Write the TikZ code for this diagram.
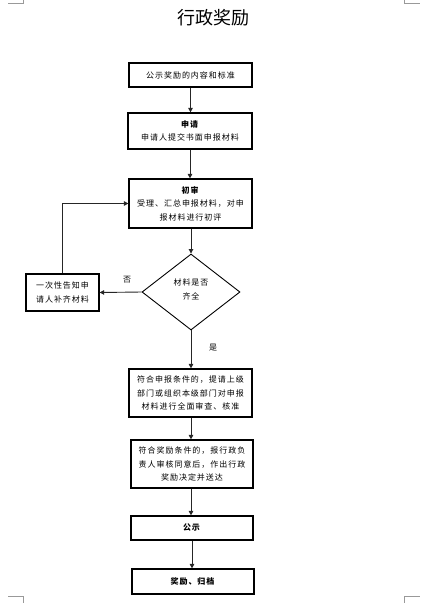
\documentclass[tikz,border=0pt]{standalone}
\usepackage{fontspec}
\usetikzlibrary{arrows.meta,shapes.geometric}
\newfontfamily\cjk{Noto Sans CJK SC}[LetterSpace=12]
\newfontfamily\cjktitle{Noto Sans CJK SC}
\begin{document}
\begin{tikzpicture}[x=1pt,y=-1pt,
  box/.style={draw=black,line width=1.2pt,inner sep=0pt,align=center,
    font=\cjk\fontsize{8}{13.6}\selectfont},
  dia/.style={draw=black,line width=0.9pt,diamond,inner sep=0pt,align=center,
    font=\cjk\fontsize{8}{14.5}\selectfont},
  arr/.style={draw=black!85,line width=0.9pt,-{Triangle[length=4.5pt,width=4.5pt]}},
  lbl/.style={font=\cjk\fontsize{8}{10}\selectfont,inner sep=0pt},
  cornermark/.style={draw=black!40,line width=0.8pt}]
\useasboundingbox (0,0) rectangle (426,603);
% corner marks
\draw[cornermark] (8,3.3) -- (23.3,3.3) -- (23.3,0);
\draw[cornermark] (404.3,0) -- (404.3,3.3) -- (420,3.3);
\draw[cornermark] (8,596.7) -- (23.3,596.7) -- (23.3,603);
\draw[cornermark] (404.3,603) -- (404.3,596.7) -- (420,596.7);
% title
\node[inner sep=0pt,font=\cjktitle\fontsize{18}{18}\selectfont] (title) at (213.5,17.5) {行政奖励};
% boxes
\node[box,minimum width=123pt,minimum height=24pt] (b1) at (190.5,75) {公示奖励的内容和标准};
\node[box,minimum width=124pt,minimum height=36pt] (b2) at (190,131) {\textbf{申请}\\申请人提交书面申报材料};
\node[box,minimum width=123pt,minimum height=49pt] (b3) at (190.5,203.5) {\textbf{初审}\\受理、汇总申报材料，对申\\报材料进行初评};
\node[dia,minimum width=98pt,minimum height=76pt,aspect=1.29] (d) at (191,292) {};
\node[lbl,align=center,font=\cjk\fontsize{8}{14.5}\selectfont] (dt) at (191,289.5) {材料是否\\齐全};
\node[box,minimum width=73pt,minimum height=37pt,align=left] (lb) at (62.5,292.5) {一次性告知申\\请人补齐材料};
\node[box,minimum width=123pt,minimum height=48pt] (b4) at (190.5,393) {符合申报条件的，提请上级\\部门或组织本级部门对申报\\材料进行全面审查、核准};
\node[box,minimum width=122pt,minimum height=48pt] (b5) at (192,464) {符合奖励条件的，报行政负\\责人审核同意后，作出行政\\奖励决定并送达};
\node[box,minimum width=122pt,minimum height=24pt] (b6) at (192,528) {\textbf{公示}};
\node[box,minimum width=122pt,minimum height=25pt] (b7) at (193,581.5) {\textbf{奖励、归档}};
% labels
\node[lbl] (no) at (127,280) {否};
\node[lbl] (yes) at (213,348) {是};
% arrows
\draw[arr] (b1.south) -- (b1.south |- b2.north);
\draw[arr] (b2.south) -- (b2.south |- b3.north);
\draw[arr] (b3.south -| d.north) -- (d.north);
\draw[arr] (d.south) -- (d.south |- b4.north);
\draw[arr] (d.west) -- (lb.east);
\draw[arr] (lb.north) -- (lb.north |- b3.west) -- (b3.west);
\draw[arr] (b4.south -| d.south) -- (d.south |- b5.north);
\draw[arr] (b5.south -| d.south) -- (d.south |- b6.north);
\draw[arr] (b6.south) -- (b6.south |- b7.north);
\end{tikzpicture}
\end{document}
